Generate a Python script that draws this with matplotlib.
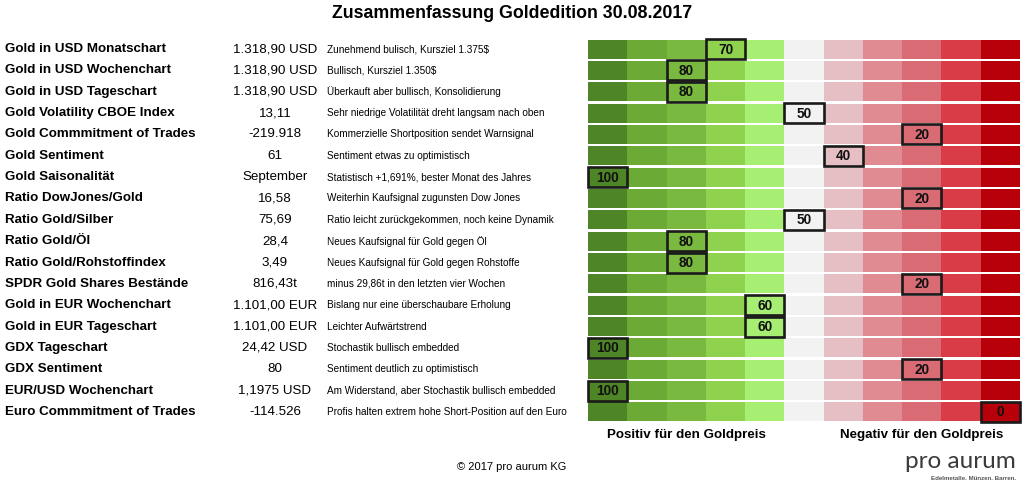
import matplotlib
matplotlib.use("Agg")
import matplotlib.pyplot as plt
from matplotlib.patches import Rectangle

plt.rcParams['font.family'] = ['Liberation Sans', 'DejaVu Sans']

title = "Zusammenfassung Goldedition 30.08.2017"
labels = [
    "Gold in USD Monatschart", "Gold in USD Wochenchart", "Gold in USD Tageschart",
    "Gold Volatility CBOE Index", "Gold Commmitment of Trades", "Gold Sentiment",
    "Gold Saisonalität", "Ratio DowJones/Gold", "Ratio Gold/Silber", "Ratio Gold/Öl",
    "Ratio Gold/Rohstoffindex", "SPDR Gold Shares Bestände", "Gold in EUR Wochenchart",
    "Gold in EUR Tageschart", "GDX Tageschart", "GDX Sentiment", "EUR/USD Wochenchart",
    "Euro Commmitment of Trades",
]
values_text = [
    "1.318,90 USD", "1.318,90 USD", "1.318,90 USD", "13,11", "-219.918", "61",
    "September", "16,58", "75,69", "28,4", "3,49", "816,43t", "1.101,00 EUR",
    "1.101,00 EUR", "24,42 USD", "80", "1,1975 USD", "-114.526",
]
comments = [
    "Zunehmend bulisch, Kursziel 1.375$",
    "Bullisch, Kursziel 1.350$",
    "Überkauft aber bullisch, Konsolidierung",
    "Sehr niedrige Volatilität dreht langsam nach oben",
    "Kommerzielle Shortposition sendet Warnsignal",
    "Sentiment etwas zu optimistisch",
    "Statistisch +1,691%, bester Monat des Jahres",
    "Weiterhin Kaufsignal zugunsten Dow Jones",
    "Ratio leicht zurückgekommen, noch keine Dynamik",
    "Neues Kaufsignal für Gold gegen Öl",
    "Neues Kaufsignal für Gold gegen Rohstoffe",
    "minus 29,86t in den letzten vier Wochen",
    "Bislang nur eine überschaubare Erholung",
    "Leichter Aufwärtstrend",
    "Stochastik bullisch embedded",
    "Sentiment deutlich zu optimistisch",
    "Am Widerstand, aber Stochastik bullisch embedded",
    "Profis halten extrem hohe Short-Position auf den Euro",
]
scores = [70, 80, 80, 50, 20, 40, 100, 20, 50, 80, 80, 20, 60, 60, 100, 20, 100, 0]
scale_levels = [100, 90, 80, 70, 60, 50, 40, 30, 20, 10, 0]
scale_colors = ["#4e8526", "#6aaa35", "#79b93f", "#8ed24e", "#a6ef73", "#f2f2f2",
                "#e6bfc4", "#e08a92", "#d96b74", "#d93b47", "#b7000a"]
footer_pos = "Positiv für den Goldpreis"
footer_neg = "Negativ für den Goldpreis"
copyright_text = "© 2017 pro aurum KG"

W, H = 1024, 487
fig = plt.figure(figsize=(W / 100, H / 100), dpi=100)
ax = fig.add_axes([0, 0, 1, 1])
ax.set_xlim(0, W)
ax.set_ylim(H, 0)
ax.axis("off")

grid_x0, grid_x1 = 588, 1020
cw = (grid_x1 - grid_x0) / len(scale_levels)
row0, rh, cell_h = 39.5, 21.35, 19

ax.text(512, 14, title, ha="center", va="center", fontsize=12.8, fontweight="bold")

for i, (lab, vt, cm, sc) in enumerate(zip(labels, values_text, comments, scores)):
    top = row0 + i * rh
    yc = top + cell_h / 2
    ax.text(5, yc, lab, ha="left", va="center", fontsize=9.6, fontweight="bold")
    ax.text(275, yc, vt, ha="center", va="center", fontsize=9.6)
    ax.text(327, yc, cm, ha="left", va="center", fontsize=7.2)
    for k, (lvl, col) in enumerate(zip(scale_levels, scale_colors)):
        ax.add_patch(Rectangle((grid_x0 + k * cw, top), cw, cell_h,
                               facecolor=col, edgecolor="none"))
    k = scale_levels.index(sc)
    ax.add_patch(Rectangle((grid_x0 + k * cw, top - 0.5), cw, cell_h + 1,
                           facecolor=scale_colors[k], edgecolor="#1a1a1a", lw=1.9, zorder=3))
    ax.text(grid_x0 + (k + 0.5) * cw, yc + 0.5, str(sc), ha="center", va="center",
            fontsize=9.8, fontweight="bold", color="#111111", zorder=4)

ax.text(grid_x0 + 2.5 * cw, 435, footer_pos, ha="center", va="center",
        fontsize=9.6, fontweight="bold")
ax.text(grid_x0 + 8.5 * cw, 435, footer_neg, ha="center", va="center",
        fontsize=9.6, fontweight="bold")
ax.text(512, 467, copyright_text, ha="center", va="center", fontsize=8)
ax.text(1016, 462, "pro aurum", ha="right", va="center", fontsize=17.5,
        color="#3a3a3a", family=["Lato", "DejaVu Sans"])
ax.text(1016, 479, "Edelmetalle. Münzen. Barren.", ha="right", va="center",
        fontsize=4.4, color="#555555", fontweight="bold")

fig.savefig("out.png", dpi=100)
